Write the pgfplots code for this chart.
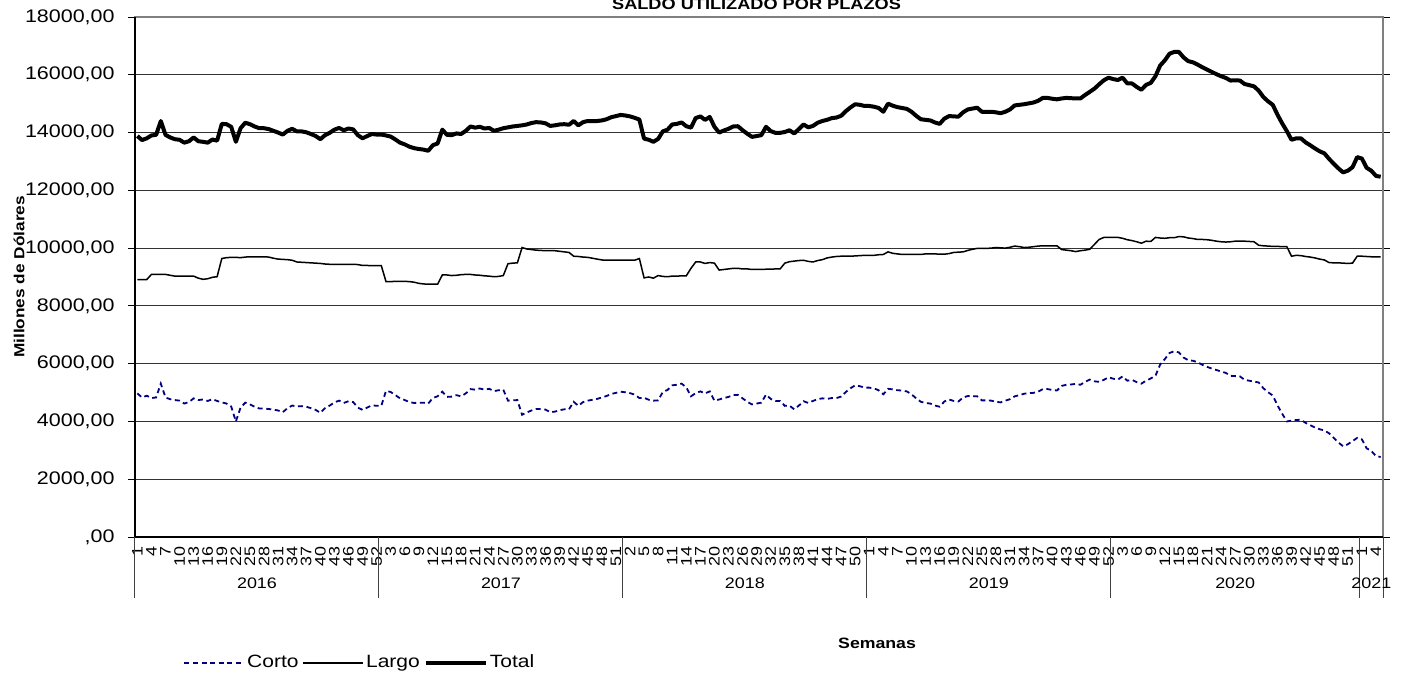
\documentclass[border=0pt]{standalone}
\usepackage{pgfplots}
\pgfplotsset{compat=1.18}
\usepackage{pgfplotstable}
\usepackage{fontspec}
\setmainfont{Liberation Sans}[FakeStretch=1.18]
\definecolor{cortoc}{RGB}{0,0,128}

\pgfplotstableread{
i T L C
0 13880 8910 4970
1 13740 8910 4830
2 13800 8910 4890
3 13900 9090 4810
4 13920 9090 4830
5 14400 9090 5310
6 13920 9090 4830
7 13830 9060 4770
8 13770 9030 4740
9 13750 9030 4720
10 13650 9030 4620
11 13700 9030 4670
12 13830 9030 4800
13 13700 8960 4740
14 13680 8920 4760
15 13650 8940 4710
16 13760 8990 4770
17 13720 9010 4710
18 14300 9640 4660
19 14290 9670 4620
20 14200 9680 4520
21 13680 9680 4000
22 14150 9670 4480
23 14340 9690 4650
24 14290 9700 4590
25 14210 9700 4510
26 14150 9700 4450
27 14150 9700 4450
28 14120 9690 4430
29 14060 9650 4410
30 14000 9620 4380
31 13930 9610 4320
32 14060 9600 4460
33 14130 9580 4550
34 14040 9520 4520
35 14040 9510 4530
36 14010 9500 4510
37 13950 9490 4460
38 13880 9480 4400
39 13770 9470 4300
40 13910 9450 4460
41 13990 9440 4550
42 14100 9440 4660
43 14160 9440 4720
44 14080 9440 4640
45 14140 9440 4700
46 14110 9440 4670
47 13910 9430 4480
48 13800 9400 4400
49 13880 9400 4480
50 13950 9390 4560
51 13930 9390 4540
52 13930 9390 4540
53 13900 8840 5060
54 13860 8840 5020
55 13760 8850 4910
56 13650 8850 4800
57 13590 8850 4740
58 13510 8840 4670
59 13460 8820 4640
60 13430 8780 4650
61 13410 8760 4650
62 13370 8750 4620
63 13565 8750 4815
64 13620 8750 4870
65 14100 9070 5030
66 13920 9070 4850
67 13910 9050 4860
68 13970 9060 4910
69 13950 9080 4870
70 14060 9090 4970
71 14210 9090 5120
72 14170 9070 5100
73 14200 9060 5140
74 14140 9040 5100
75 14160 9030 5130
76 14060 9010 5050
77 14100 9020 5080
78 14150 9050 5100
79 14180 9460 4720
80 14210 9480 4730
81 14230 9490 4740
82 14250 10020 4230
83 14280 9970 4310
84 14330 9950 4380
85 14360 9930 4430
86 14350 9920 4430
87 14320 9910 4410
88 14230 9910 4320
89 14250 9910 4340
90 14280 9890 4390
91 14290 9870 4420
92 14270 9850 4420
93 14400 9720 4680
94 14250 9710 4540
95 14360 9690 4670
96 14400 9680 4720
97 14400 9650 4750
98 14400 9620 4780
99 14420 9590 4830
100 14460 9580 4880
101 14530 9580 4950
102 14570 9580 4990
103 14610 9580 5030
104 14590 9580 5010
105 14560 9580 4980
106 14510 9580 4930
107 14450 9640 4810
108 13790 8970 4820
109 13750 9000 4750
110 13680 8960 4720
111 13780 9050 4730
112 14040 9020 5020
113 14100 9010 5090
114 14280 9030 5250
115 14300 9030 5270
116 14350 9040 5310
117 14220 9040 5180
118 14170 9300 4870
119 14500 9520 4980
120 14560 9520 5040
121 14440 9470 4970
122 14540 9500 5040
123 14200 9480 4720
124 14000 9240 4760
125 14070 9260 4810
126 14130 9280 4850
127 14210 9300 4910
128 14220 9300 4920
129 14080 9280 4800
130 13960 9280 4680
131 13850 9260 4590
132 13880 9260 4620
133 13910 9260 4650
134 14200 9270 4930
135 14050 9270 4780
136 13990 9280 4710
137 13990 9280 4710
138 14020 9480 4540
139 14080 9530 4550
140 13970 9550 4420
141 14120 9570 4550
142 14280 9580 4700
143 14180 9540 4640
144 14230 9520 4710
145 14340 9570 4770
146 14400 9600 4800
147 14440 9660 4780
148 14500 9690 4810
149 14520 9710 4810
150 14580 9720 4860
151 14740 9720 5020
152 14870 9720 5150
153 14980 9730 5250
154 14960 9740 5220
155 14920 9750 5170
156 14920 9750 5170
157 14895 9750 5145
158 14850 9770 5080
159 14720 9780 4940
160 15000 9870 5130
161 14930 9820 5110
162 14880 9800 5080
163 14850 9780 5070
164 14820 9780 5040
165 14720 9780 4940
166 14580 9780 4800
167 14460 9780 4680
168 14440 9800 4640
169 14420 9800 4620
170 14350 9800 4550
171 14300 9790 4510
172 14480 9790 4690
173 14570 9810 4760
174 14560 9850 4710
175 14550 9860 4690
176 14700 9870 4830
177 14800 9920 4880
178 14830 9960 4870
179 14860 9990 4870
180 14720 9990 4730
181 14720 9990 4730
182 14720 10000 4720
183 14700 10020 4680
184 14670 10010 4660
185 14720 10000 4720
186 14800 10030 4770
187 14940 10070 4870
188 14960 10050 4910
189 14980 10020 4960
190 15010 10030 4980
191 15040 10050 4990
192 15100 10070 5030
193 15200 10080 5120
194 15200 10080 5120
195 15170 10080 5090
196 15150 10080 5070
197 15180 9950 5230
198 15200 9930 5270
199 15190 9910 5280
200 15180 9880 5300
201 15180 9910 5270
202 15300 9930 5370
203 15410 9960 5450
204 15520 10130 5390
205 15670 10300 5370
206 15810 10370 5440
207 15900 10370 5530
208 15850 10370 5480
209 15820 10370 5450
210 15900 10340 5560
211 15700 10290 5410
212 15700 10260 5440
213 15580 10220 5360
214 15480 10170 5310
215 15650 10240 5410
216 15720 10230 5490
217 15950 10370 5580
218 16320 10350 5970
219 16500 10340 6160
220 16730 10360 6370
221 16790 10360 6430
222 16790 10400 6390
223 16600 10390 6210
224 16470 10350 6120
225 16430 10330 6100
226 16350 10300 6050
227 16260 10300 5960
228 16180 10290 5890
229 16100 10270 5830
230 16020 10240 5780
231 15950 10220 5730
232 15890 10210 5680
233 15800 10220 5580
234 15810 10240 5570
235 15800 10240 5560
236 15680 10240 5440
237 15640 10230 5410
238 15600 10220 5380
239 15450 10100 5350
240 15230 10080 5150
241 15080 10070 5010
242 14960 10060 4900
243 14620 10060 4560
244 14320 10050 4270
245 14050 10050 4000
246 13750 9720 4030
247 13800 9750 4050
248 13800 9740 4060
249 13660 9710 3950
250 13560 9690 3870
251 13450 9660 3790
252 13350 9620 3730
253 13280 9590 3690
254 13090 9500 3590
255 12920 9490 3430
256 12760 9490 3270
257 12620 9480 3140
258 12680 9470 3210
259 12800 9480 3320
260 13150 9720 3430
261 13100 9720 3380
262 12780 9710 3070
263 12680 9700 2980
264 12500 9700 2800
265 12470 9700 2770
}\datatable

\begin{document}
\begin{tikzpicture}
\useasboundingbox (0pt,0pt) rectangle (702pt,338.5pt);
\begin{axis}[
  at={(67.5pt,70pt)}, anchor=south west,
  width=624pt, height=260pt, scale only axis,
  xmin=-0.5, xmax=265.5, ymin=0, ymax=18000,
  clip=false,
  scaled y ticks=false, scaled x ticks=false,
  ytick={0,2000,4000,6000,8000,10000,12000,14000,16000,18000},
  yticklabels={{,00},{2000,00},{4000,00},{6000,00},{8000,00},{10000,00},{12000,00},{14000,00},{16000,00},{18000,00}},
  xtick={0,3,...,264},
  xticklabels={1,4,7,10,13,16,19,22,25,28,31,34,37,40,43,46,49,52,
    3,6,9,12,15,18,21,24,27,30,33,36,39,42,45,48,51,
    2,5,8,11,14,17,20,23,26,29,32,35,38,41,44,47,50,
    1,4,7,10,13,16,19,22,25,28,31,34,37,40,43,46,49,52,
    3,6,9,12,15,18,21,24,27,30,33,36,39,42,45,48,51,
    1,4},
  ymajorgrids,
  grid style={black!80, line width=0.5pt},
  axis line style={black!50, line width=0.6pt},
  tick align=outside,
  major tick length=3.5pt,
  xtick style={draw=none},
  ytick style={black, line width=0.5pt},
  yticklabel style={font=\fontsize{9.1}{10}\selectfont, anchor=east, inner sep=0pt},
  yticklabel shift=6.5pt,
  xticklabel style={font=\fontsize{7.6}{8}\selectfont, rotate=90, anchor=east, inner sep=0pt},
  xticklabel shift=1pt,
  xlabel={Semanas},
  xlabel style={font=\bfseries\fontsize{7.5}{9}\selectfont, at={(axis description cs:0.5946,-0.2038)}, anchor=center},
  ylabel={Millones de Dólares},
  ylabel style={font=\bfseries\fontsize{7.3}{9}\selectfont, at={(axis description cs:-0.0929,0.5)}, anchor=center},
  legend columns=3,
  legend image code/.code={\draw[#1] (0pt,0pt) -- (30pt,0pt);},
  legend style={at={(axis description cs:0.0385,-0.2423)}, anchor=west, draw=none, fill=none,
    inner sep=0pt, font=\fontsize{8.9}{10}\selectfont,
    nodes={inner sep=1pt},
    /tikz/every even column/.append style={column sep=1pt}},
  no markers,
]
\addplot[cortoc, line width=0.9pt, dash pattern=on 2.5pt off 1.8pt] table[x=i, y=C]{\datatable};
\addlegendentry{Corto}
\addplot[black, line width=0.75pt] table[x=i, y=L]{\datatable};
\addlegendentry{Largo}
\addplot[black, line width=2pt, line join=round] table[x=i, y=T]{\datatable};
\addlegendentry{Total}
\draw[black, line width=0.8pt] (rel axis cs:0,0) -- (rel axis cs:0,1);
\draw[black, line width=0.6pt] (rel axis cs:0,0) -- (rel axis cs:1,0);
\pgfplotsinvokeforeach{-0.5,51.5,103.5,155.5,207.5,260.5,265.5}{
  \draw[black!75, line width=0.5pt] (axis cs:#1,0) -- ++(0pt,-30.5pt);
}
\node[font=\fontsize{7.6}{9}\selectfont, yshift=-23pt] at (axis cs:25.5,0) {2016};
\node[font=\fontsize{7.6}{9}\selectfont, yshift=-23pt] at (axis cs:77.5,0) {2017};
\node[font=\fontsize{7.6}{9}\selectfont, yshift=-23pt] at (axis cs:129.5,0) {2018};
\node[font=\fontsize{7.6}{9}\selectfont, yshift=-23pt] at (axis cs:181.5,0) {2019};
\node[font=\fontsize{7.6}{9}\selectfont, yshift=-23pt] at (axis cs:234,0) {2020};
\node[font=\fontsize{7.6}{9}\selectfont, yshift=-23pt] at (axis cs:263,0) {2021};
\node[font=\bfseries\fontsize{7.7}{9}\selectfont, anchor=base, inner sep=0pt, yshift=3.75pt] at (rel axis cs:0.498,1) {SALDO UTILIZADO POR PLAZOS};
\end{axis}
\end{tikzpicture}
\end{document}
